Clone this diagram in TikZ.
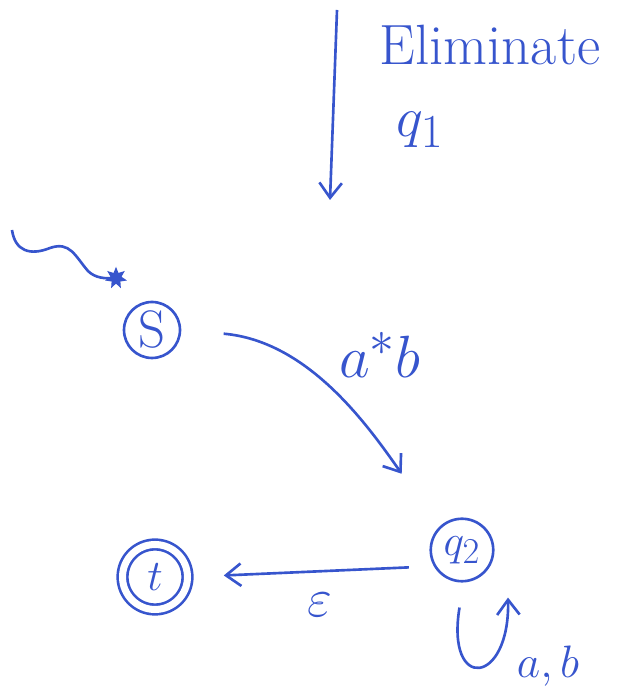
\documentclass[tikz,border=0pt]{standalone}
\usepackage{amsmath}
\usepackage{xcolor}
\usepackage{tikz}
\usetikzlibrary{arrows.meta, shapes.geometric}

\definecolor{penblue}{RGB}{55,85,205}

\begin{document}
\begin{tikzpicture}[x=0.02cm, y=0.02cm, color=penblue, line width=1.5pt,
  state/.style={circle, draw, minimum size=1.12cm, inner sep=0pt, font=\fontsize{30}{36}\selectfont},
  accept/.style={state, double, double distance=4pt, minimum size=1.3cm},
  arr/.style={-{Straight Barb[length=0.3cm, width=0.45cm]}},
  lbl/.style={font=\Huge, scale=1.3}]
\useasboundingbox (0,0) rectangle (637,696);

% elimination step
\coordinate (top) at (337,686);
\coordinate (down) at (330,496);
\draw[arr] (top) -- (down);
\node[lbl] (elim) at (490,651) {Eliminate};
\node[lbl] (qone) at (420,566) {$q_1$};

% states
\node[state] (S) at (152,366) {S};
\node[state, minimum size=1.25cm] (q2) at (462,146) {$q_2$};
\node[accept] (t) at (155,119) {$t$};

% start arrow
\coordinate (wave) at (12,466);
\node[star, star points=7, star point ratio=2, fill, inner sep=0pt, minimum size=0.45cm] (init) at (116,418) {};
\draw (wave) .. controls (15,445) and (30,440) .. (50,448) .. controls (70,455) and (75,440) .. (88,425) .. controls (95,418) and (105,417) .. (init.center);

% transitions
\draw[arr, shorten <=0.85cm, shorten >=1.3cm] (S.east) to[out=-5, in=125] (q2.north west);
\node[lbl, scale=1.05] (astb) at (380,341) {$a^*b$};

\draw[arr, shorten <=0.5cm, shorten >=0.7cm] (q2.210) -- (t.east);
\node[lbl, scale=0.95] (eps) at (320,91) {$\varepsilon$};

\draw[arr] ([xshift=-0.05cm, yshift=-0.5cm]q2.south) .. controls +(-14,-85) and +(2,-88) .. ([xshift=0.92cm, yshift=-0.3cm]q2.south);
\node[lbl, scale=0.8] (loopab) at (548,30) {$a,b$};
\end{tikzpicture}
\end{document}
